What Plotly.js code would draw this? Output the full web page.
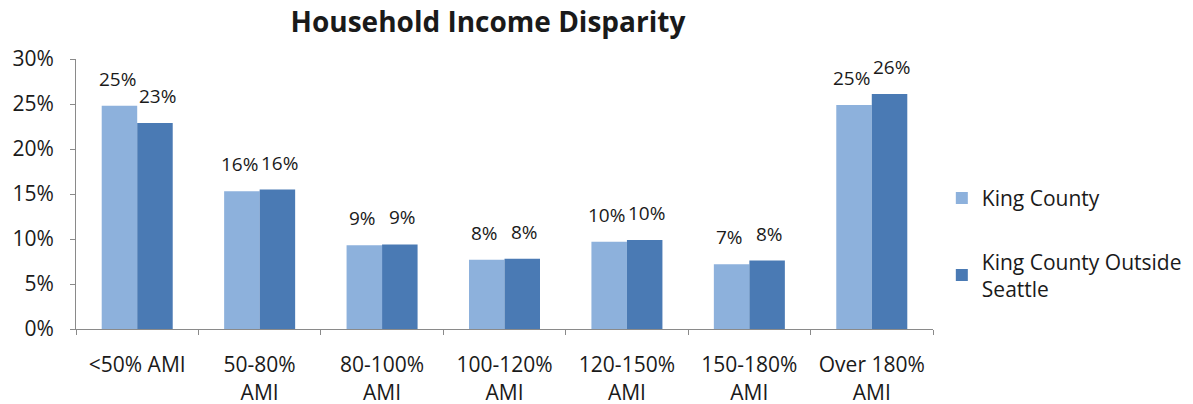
<!DOCTYPE html>
<html>
<head>
<meta charset="utf-8">
<script src="https://cdn.plot.ly/plotly-3.0.1.min.js"></script>
<style>html,body{margin:0;padding:0;background:#fff;}#chart{width:1193px;height:404px;}</style>
</head>
<body>
<div id="chart"></div>
<script>
const categories = ["&lt;50% AMI", "50-80%<br>AMI", "80-100%<br>AMI", "100-120%<br>AMI", "120-150%<br>AMI", "150-180%<br>AMI", "Over 180%<br>AMI"];
const kingCounty = [24.8, 15.3, 9.3, 7.7, 9.7, 7.2, 24.9];
const outsideSeattle = [22.9, 15.5, 9.4, 7.8, 9.9, 7.6, 26.1];
const kingCountyLabels = ["25%", "16%", "9%", "8%", "10%", "7%", "25%"];
const outsideSeattleLabels = ["23%", "16%", "9%", "8%", "10%", "8%", "26%"];
const seriesNames = ["King County", "King County Outside<br>Seattle"];
const colors = ["#8db1dc", "#4a7ab4"];

const font = "'Open Sans', Lato, sans-serif";

const traces = [
  {type: "bar", x: categories, y: kingCounty, name: seriesNames[0], marker: {color: colors[0]}, legendgroup: "a", hoverinfo: "none"},
  {type: "bar", x: categories, y: outsideSeattle, name: seriesNames[1], marker: {color: colors[1]}, legendgroup: "b", hoverinfo: "none"}
];

const annotations = [];
const sets = [[kingCounty, kingCountyLabels, -20], [outsideSeattle, outsideSeattleLabels, 20]];
sets.forEach(([vals, labs, dx]) => {
  vals.forEach((v, i) => {
    annotations.push({x: categories[i], y: v, text: labs[i], showarrow: false, xref: "x", yref: "y",
      xshift: dx, yshift: 12, yanchor: "bottom", font: {family: font, size: 19, color: "#1a1a1a"}});
  });
});

const layout = {
  width: 1193, height: 404,
  margin: {l: 76, r: 260, t: 59, b: 75, autoexpand: false},
  paper_bgcolor: "#ffffff", plot_bgcolor: "#ffffff",
  title: {text: "<b>Household Income Disparity</b>", x: 0.409, xanchor: "center", y: 0.945, yanchor: "middle",
    font: {family: font, size: 28, color: "#1a1a1a"}},
  barmode: "group", bargap: 0.42, bargroupgap: 0,
  showlegend: true,
  legend: {x: 1.0103, xanchor: "left", y: 0.317, yanchor: "middle", font: {family: font, size: 21, color: "#1a1a1a"},
    traceorder: "grouped", tracegroupgap: 33, itemwidth: 30},
  xaxis: {showline: true, linecolor: "#8a8a8a", linewidth: 1, ticks: "outside", tickson: "boundaries", ticklen: 5,
    tickcolor: "#8a8a8a", showgrid: false, ticklabelstandoff: 17, tickfont: {family: font, size: 21, color: "#1a1a1a"}, fixedrange: true},
  yaxis: {range: [0, 30], dtick: 5, ticksuffix: "%", showline: true, linecolor: "#8a8a8a", linewidth: 1,
    ticks: "outside", ticklen: 5, tickcolor: "#8a8a8a", showgrid: false, zeroline: false, ticklabelstandoff: 12,
    tickfont: {family: font, size: 21, color: "#1a1a1a"}, fixedrange: true},
  annotations: annotations
};

Plotly.newPlot("chart", traces, layout, {displayModeBar: false, staticPlot: true});
</script>
</body>
</html>
